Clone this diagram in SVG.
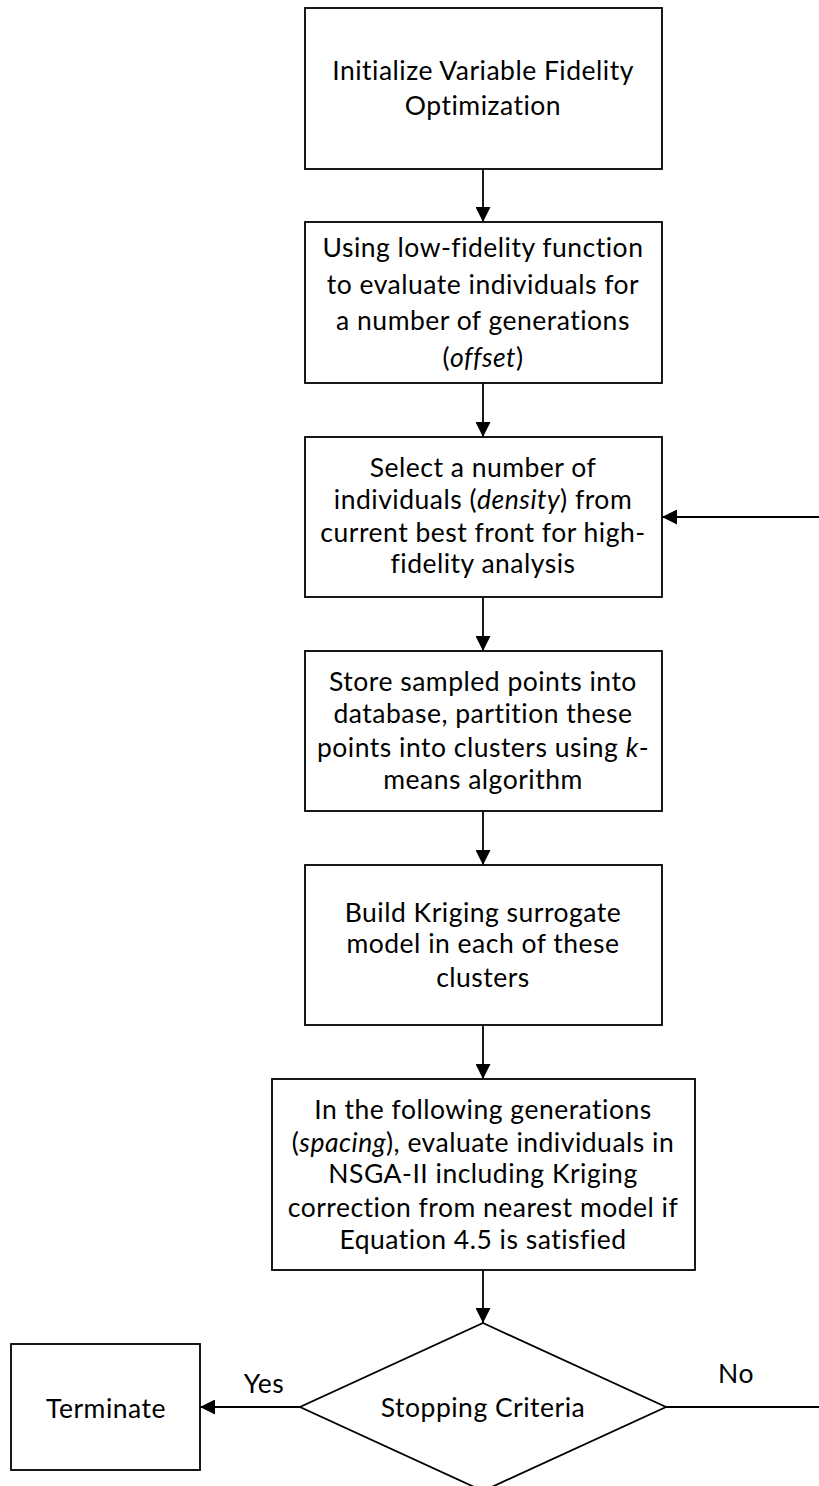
<svg xmlns="http://www.w3.org/2000/svg" width="819" height="1486" viewBox="0 0 819 1486">
  <style>
    .box { fill: #ffffff; stroke: #000000; stroke-width: 1.8; }
    .edge { fill: none; stroke: #000000; stroke-width: 1.8; }
    text { font-family: Lato, "Open Sans", sans-serif; font-size: 26.5px; letter-spacing: 0.5px; fill: #000000; text-anchor: middle; }
    .it { font-style: italic; }
  </style>
  <defs>
    <marker id="arrow" viewBox="0 0 15 15" refX="15" refY="7.5" markerWidth="15" markerHeight="15" markerUnits="userSpaceOnUse" orient="auto">
      <path d="M0,0 L15,7.5 L0,15 Z" fill="#000000"/>
    </marker>
  </defs>
  <rect width="819" height="1486" fill="#ffffff"/>

  <g id="connectors">
    <line class="edge" x1="483" y1="169" x2="483" y2="222" marker-end="url(#arrow)"/>
    <line class="edge" x1="483" y1="383" x2="483" y2="437" marker-end="url(#arrow)"/>
    <line class="edge" x1="483" y1="597" x2="483" y2="651" marker-end="url(#arrow)"/>
    <line class="edge" x1="483" y1="811" x2="483" y2="865" marker-end="url(#arrow)"/>
    <line class="edge" x1="483" y1="1025" x2="483" y2="1079" marker-end="url(#arrow)"/>
    <line class="edge" x1="483" y1="1270" x2="483" y2="1323" marker-end="url(#arrow)"/>
    <line class="edge" x1="300" y1="1407" x2="200" y2="1407" marker-end="url(#arrow)"/>
    <!-- "No" branch loops back up the right side to the selection step -->
    <path class="edge" d="M666,1407 L830,1407 L830,517 L662,517" marker-end="url(#arrow)"/>
    <text x="264" y="1393">Yes</text>
    <text x="736" y="1383">No</text>
  </g>

  <g id="init">
    <rect class="box" x="305" y="8" width="357" height="161"/>
    <text x="483" y="80">Initialize Variable Fidelity</text>
    <text x="483" y="115">Optimization</text>
  </g>

  <g id="low-fidelity">
    <rect class="box" x="305" y="222" width="357" height="161"/>
    <text x="483" y="257">Using low-fidelity function</text>
    <text x="483" y="294">to evaluate individuals for</text>
    <text x="483" y="330">a number of generations</text>
    <text x="483" y="367">(<tspan class="it">offset</tspan>)</text>
  </g>

  <g id="select">
    <rect class="box" x="305" y="437" width="357" height="160"/>
    <text x="483" y="477">Select a number of</text>
    <text x="483" y="509">individuals (<tspan class="it">density</tspan>) from</text>
    <text x="483" y="542">current best front for high-</text>
    <text x="483" y="573">fidelity analysis</text>
  </g>

  <g id="store">
    <rect class="box" x="305" y="651" width="357" height="160"/>
    <text x="483" y="691">Store sampled points into</text>
    <text x="483" y="723">database, partition these</text>
    <text x="483" y="757">points into clusters using <tspan class="it">k</tspan>-</text>
    <text x="483" y="789">means algorithm</text>
  </g>

  <g id="kriging">
    <rect class="box" x="305" y="865" width="357" height="160"/>
    <text x="483" y="922">Build Kriging surrogate</text>
    <text x="483" y="953">model in each of these</text>
    <text x="483" y="987">clusters</text>
  </g>

  <g id="evaluate">
    <rect class="box" x="272" y="1079" width="423" height="191"/>
    <text x="483" y="1119">In the following generations</text>
    <text x="483" y="1152">(<tspan class="it">spacing</tspan>), evaluate individuals in</text>
    <text x="483" y="1183">NSGA-II including Kriging</text>
    <text x="483" y="1217">correction from nearest model if</text>
    <text x="483" y="1249">Equation 4.5 is satisfied</text>
  </g>

  <g id="stopping">
    <polygon class="box" points="483,1323 666,1407 483,1491 300,1407"/>
    <text x="483" y="1417">Stopping Criteria</text>
  </g>

  <g id="terminate">
    <rect class="box" x="11" y="1344" width="189" height="126"/>
    <text x="106" y="1418">Terminate</text>
  </g>
</svg>
